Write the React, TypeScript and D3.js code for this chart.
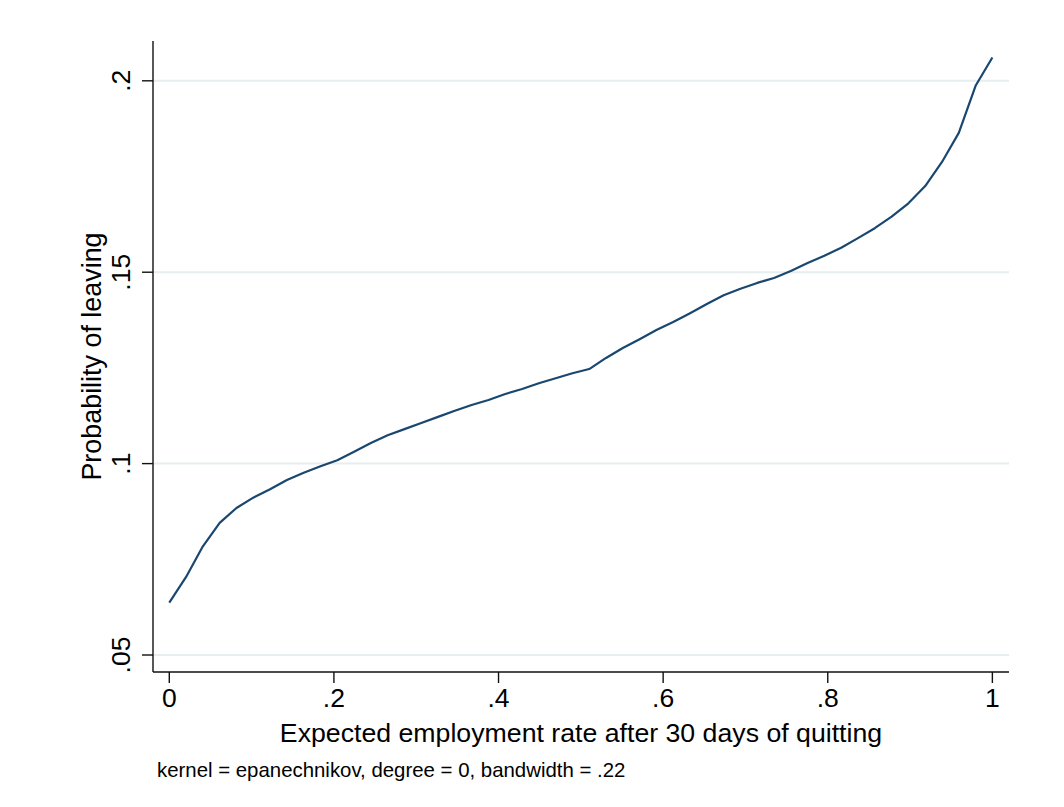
import { useMemo } from 'react';
import * as d3 from 'd3';

// lpoly grid (50 points)
const expEmployment = [
  0, 0.0204, 0.0408, 0.0612, 0.0816, 0.102, 0.1224, 0.1429, 0.1633, 0.1837,
  0.2041, 0.2245, 0.2449, 0.2653, 0.2857, 0.3061, 0.3265, 0.3469, 0.3673, 0.3878,
  0.4082, 0.4286, 0.449, 0.4694, 0.4898, 0.5102, 0.5306, 0.551, 0.5714, 0.5918,
  0.6122, 0.6327, 0.6531, 0.6735, 0.6939, 0.7143, 0.7347, 0.7551, 0.7755, 0.7959,
  0.8163, 0.8367, 0.8571, 0.8776, 0.898, 0.9184, 0.9388, 0.9592, 0.9796, 1,
];
const probLeaving = [
  0.0637, 0.0704, 0.0784, 0.0845, 0.0884, 0.0911, 0.0933, 0.0957, 0.0976, 0.0993,
  0.1009, 0.1031, 0.1054, 0.1074, 0.109, 0.1106, 0.1122, 0.1138, 0.1153, 0.1166,
  0.1182, 0.1195, 0.121, 0.1223, 0.1236, 0.1247, 0.1276, 0.1302, 0.1325, 0.1349,
  0.137, 0.1393, 0.1417, 0.144, 0.1457, 0.1472, 0.1485, 0.1503, 0.1524, 0.1543,
  0.1564, 0.1589, 0.1615, 0.1645, 0.168, 0.1725, 0.1788, 0.1864, 0.1987, 0.2061,
];

const xTicks = [0, 0.2, 0.4, 0.6, 0.8, 1];
const xTickLabels = ['0', '.2', '.4', '.6', '.8', '1'];
const yTicks = [0.05, 0.1, 0.15, 0.2];
const yTickLabels = ['.05', '.1', '.15', '.2'];

const xTitle = 'Expected employment rate after 30 days of quitting';
const yTitle = 'Probability of leaving';
const note = 'kernel = epanechnikov, degree = 0, bandwidth = .22';

export default function App() {
  const width = 1064;
  const height = 807;

  // plot region edges
  const left = 153;
  const right = 1009;
  const top = 41;
  const bottom = 672;

  const font = '"Liberation Sans", Arial, Helvetica, sans-serif';

  const x = d3.scaleLinear().domain([-0.0198, 1.0202]).range([left, right]);
  const y = d3.scaleLinear().domain([0.04556, 0.2104]).range([bottom, top]);

  const data = useMemo(
    () => expEmployment.map((d, i) => ({ x: d, y: probLeaving[i] })),
    []
  );

  const line = d3
    .line<{ x: number; y: number }>()
    .x(d => x(d.x))
    .y(d => y(d.y));

  return (
    <div style={{ position: 'absolute', left: 0, top: 0 }}>
      <svg width={width} height={height} viewBox={`0 0 ${width} ${height}`} style={{ display: 'block', background: '#fff' }}>
        {/* gridlines */}
        <g>
          {yTicks.map((t, i) => (
            <line key={i} x1={left} x2={right} y1={y(t)} y2={y(t)} stroke="#e6eef0" strokeWidth={2} />
          ))}
        </g>

        {/* the fitted curve */}
        <path d={line(data) || ''} fill="none" stroke="#1a476f" strokeWidth={2.2} strokeLinejoin="round" />

        {/* y axis */}
        <line x1={left} x2={left} y1={top} y2={bottom} stroke="#111" strokeWidth={1.4} />
        {yTicks.map((t, i) => (
          <g key={i}>
            <line x1={left - 11} x2={left} y1={y(t)} y2={y(t)} stroke="#111" strokeWidth={1.4} />
            <text
              transform={`translate(${130}, ${y(t)}) rotate(-90)`}
              textAnchor="middle"
              fontFamily={font}
              fontSize={26.5}
              fill="#000"
            >
              {yTickLabels[i]}
            </text>
          </g>
        ))}

        {/* x axis */}
        <line x1={left} x2={right} y1={bottom} y2={bottom} stroke="#111" strokeWidth={1.4} />
        {xTicks.map((t, i) => (
          <g key={i}>
            <line x1={x(t)} x2={x(t)} y1={bottom} y2={bottom + 11} stroke="#111" strokeWidth={1.4} />
            <text x={x(t)} y={707} textAnchor="middle" fontFamily={font} fontSize={26.5} fill="#000">
              {xTickLabels[i]}
            </text>
          </g>
        ))}

        {/* titles */}
        <text x={(left + right) / 2} y={742} textAnchor="middle" fontFamily={font} fontSize={26.7} fill="#000">
          {xTitle}
        </text>
        <text
          transform={`translate(101, ${(top + bottom) / 2}) rotate(-90)`}
          textAnchor="middle"
          fontFamily={font}
          fontSize={26.9}
          fill="#000"
        >
          {yTitle}
        </text>
        <text x={157} y={777} fontFamily={font} fontSize={20.4} fill="#000">
          {note}
        </text>
      </svg>
    </div>
  );
}
